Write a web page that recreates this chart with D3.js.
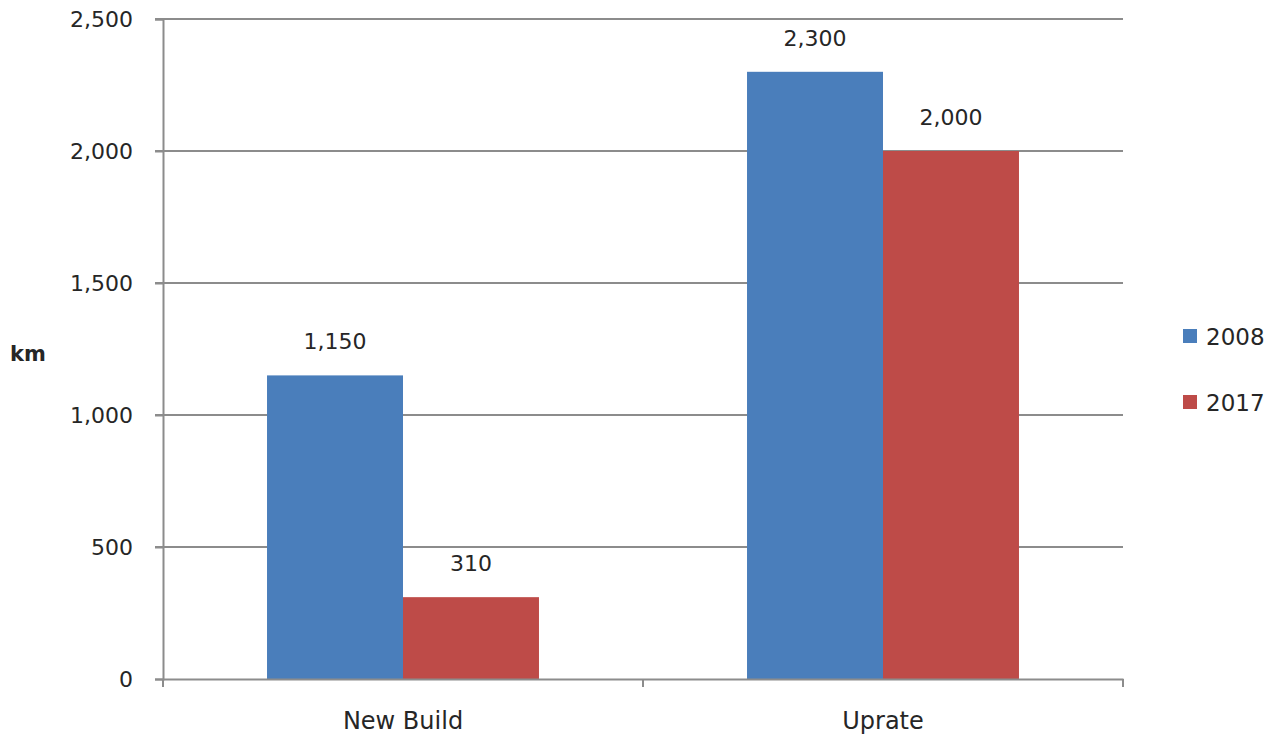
<!DOCTYPE html>
<html>
<head>
<meta charset="utf-8">
<script src="https://cdn.jsdelivr.net/npm/d3@7"></script>
<style>
  html, body { margin: 0; padding: 0; background: #fff; }
  svg { display: block; }
  text { font-family: "DejaVu Sans", sans-serif; fill: #262626; }
</style>
</head>
<body>
<svg id="chart" width="1279" height="743"></svg>
<script>
// Line length (km) by project type
const categories = ["New Build", "Uprate"];
const seriesNames = ["2008", "2017"];
const values2008 = [1150, 2300];
const values2017 = [310, 2000];
const yTicks = [0, 500, 1000, 1500, 2000, 2500];
const colors = ["#4A7EBB", "#BE4B48"];

const series = [values2008, values2017];
const svg = d3.select("#chart");
const margin = { left: 163, right: 156, top: 19, bottom: 64 };
const W = 1279, H = 743;
const plotW = W - margin.left - margin.right;
const plotH = H - margin.top - margin.bottom;

const g = svg.append("g").attr("transform", `translate(${margin.left},${margin.top})`);

const x = d3.scaleBand().domain(categories).range([0, plotW]).paddingInner(0).paddingOuter(0);
const xInner = d3.scaleBand().domain(seriesNames).range([0, x.bandwidth()])
  .paddingInner(0).paddingOuter(0.765);
const y = d3.scaleLinear().domain([0, 2500]).range([plotH, 0]);

const fmt = d3.format(",");

// horizontal gridlines
g.append("g").selectAll("line").data(yTicks.filter(t => t > 0)).join("line")
  .attr("x1", -8).attr("x2", plotW)
  .attr("y1", d => y(d)).attr("y2", d => y(d))
  .attr("stroke", "#8c8c8c").attr("stroke-width", 2);

// y axis
const yAxis = d3.axisLeft(y).tickValues(yTicks).tickFormat(fmt).tickSize(8).tickPadding(22);
const ya = g.append("g").call(yAxis);
ya.select(".domain").attr("stroke", "#8c8c8c").attr("stroke-width", 2);
ya.selectAll(".tick line").attr("stroke", "#8c8c8c").attr("stroke-width", 2);
ya.selectAll(".tick text").attr("font-size", 22).attr("font-family", "DejaVu Sans").attr("fill", "#262626");

// bars with value labels
series.forEach((vals, si) => {
  g.append("g").selectAll("rect").data(categories).join("rect")
    .attr("x", c => x(c) + xInner(seriesNames[si]))
    .attr("width", xInner.bandwidth())
    .attr("y", (c, i) => y(vals[i]))
    .attr("height", (c, i) => plotH - y(vals[i]))
    .attr("fill", colors[si]);
  g.append("g").selectAll("text").data(categories).join("text")
    .attr("x", c => x(c) + xInner(seriesNames[si]) + xInner.bandwidth() / 2)
    .attr("y", (c, i) => y(vals[i]) - 26)
    .attr("text-anchor", "middle")
    .attr("font-size", 22)
    .text((c, i) => fmt(vals[i]));
});

// x axis
const xAxis = d3.axisBottom(x).tickSize(0).tickPadding(33);
const xa = g.append("g").attr("transform", `translate(0,${plotH})`).call(xAxis);
xa.select(".domain").attr("stroke", "#8c8c8c").attr("stroke-width", 2);
xa.selectAll(".tick text").attr("font-size", 24).attr("font-family", "DejaVu Sans").attr("fill", "#262626");
// category boundary ticks
const bounds = [0, x.bandwidth(), plotW];
xa.append("g").selectAll("line").data(bounds).join("line")
  .attr("x1", d => d).attr("x2", d => d).attr("y1", 0).attr("y2", 8)
  .attr("stroke", "#8c8c8c").attr("stroke-width", 2);

// axis title
svg.append("text").attr("x", 10).attr("y", 361)
  .attr("font-size", 21).attr("font-weight", "bold").text("km");

// legend
const legend = svg.append("g").attr("transform", "translate(1183,329)");
seriesNames.forEach((s, i) => {
  const row = legend.append("g").attr("transform", `translate(0,${i * 66})`);
  row.append("rect").attr("width", 14).attr("height", 14).attr("fill", colors[i]);
  row.append("text").attr("x", 23).attr("y", 16).attr("font-size", 23).text(s);
});
</script>
</body>
</html>
